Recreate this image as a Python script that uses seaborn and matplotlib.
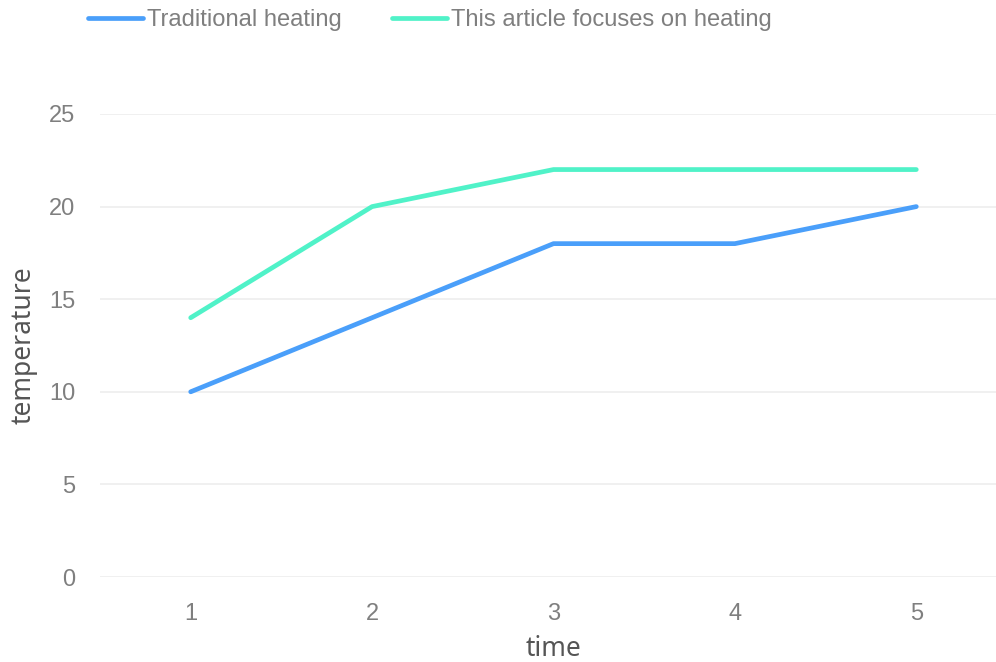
import matplotlib
matplotlib.use("Agg")
import matplotlib.pyplot as plt
import seaborn as sns
import pandas as pd

# Data
times = [1, 2, 3, 4, 5]
traditional = [10, 14, 18, 18, 20]
proposed = [14, 20, 22, 22, 22]
series_names = ["Traditional heating", "This article focuses on heating"]
y_ticks = [0, 5, 10, 15, 20, 25]

df = pd.DataFrame({
    "time": times * 2,
    "temperature": traditional + proposed,
    "series": [series_names[0]] * len(times) + [series_names[1]] * len(times),
})

sns.set_theme(style="white")
plt.rcParams["font.family"] = ["Liberation Sans", "DejaVu Sans"]

palette = {series_names[0]: "#4A9FFA", series_names[1]: "#50F2C8"}

fig = plt.figure(figsize=(9.96, 6.62), dpi=100)
ax = fig.add_axes([100 / 996, 85 / 662, 907 / 996, 463 / 662])

sns.lineplot(data=df, x="time", y="temperature", hue="series", palette=palette,
             linewidth=3.4, ax=ax, legend=False, zorder=3,
             solid_capstyle="round", solid_joinstyle="round")

ax.set_xlim(0.5, 5.5)
ax.set_ylim(0, 25)
ax.set_xticks(times)
ax.set_yticks(y_ticks)
ax.set_xticklabels([str(t) for t in times])
ax.set_yticklabels([str(t) for t in y_ticks])
ax.tick_params(axis="both", length=0, labelsize=17, labelcolor="#7f7f7f")
ax.tick_params(axis="y", pad=18)
ax.tick_params(axis="x", pad=19)
ax.grid(axis="y", color="#efefef", linewidth=1.3, zorder=0)
ax.grid(axis="x", visible=False)
for s in ax.spines.values():
    s.set_visible(False)

ax.set_xlabel("time", fontsize=19, color="#555555", family="Noto Sans", labelpad=7)
ax.set_ylabel("temperature", fontsize=19, color="#555555", family="Noto Sans", labelpad=8)

handles = [plt.Line2D([], [], color=palette[n], linewidth=3.4, solid_capstyle="round")
           for n in series_names]
fig.legend(handles, series_names, loc="center left", bbox_to_anchor=(88 / 996, 1 - 20 / 662),
           ncol=2, frameon=False, fontsize=17.1, labelcolor="#7f7f7f",
           handlelength=2.3, handletextpad=0.2, columnspacing=2.1, borderpad=0,
           borderaxespad=0)

fig.savefig("out.png", dpi=100)
